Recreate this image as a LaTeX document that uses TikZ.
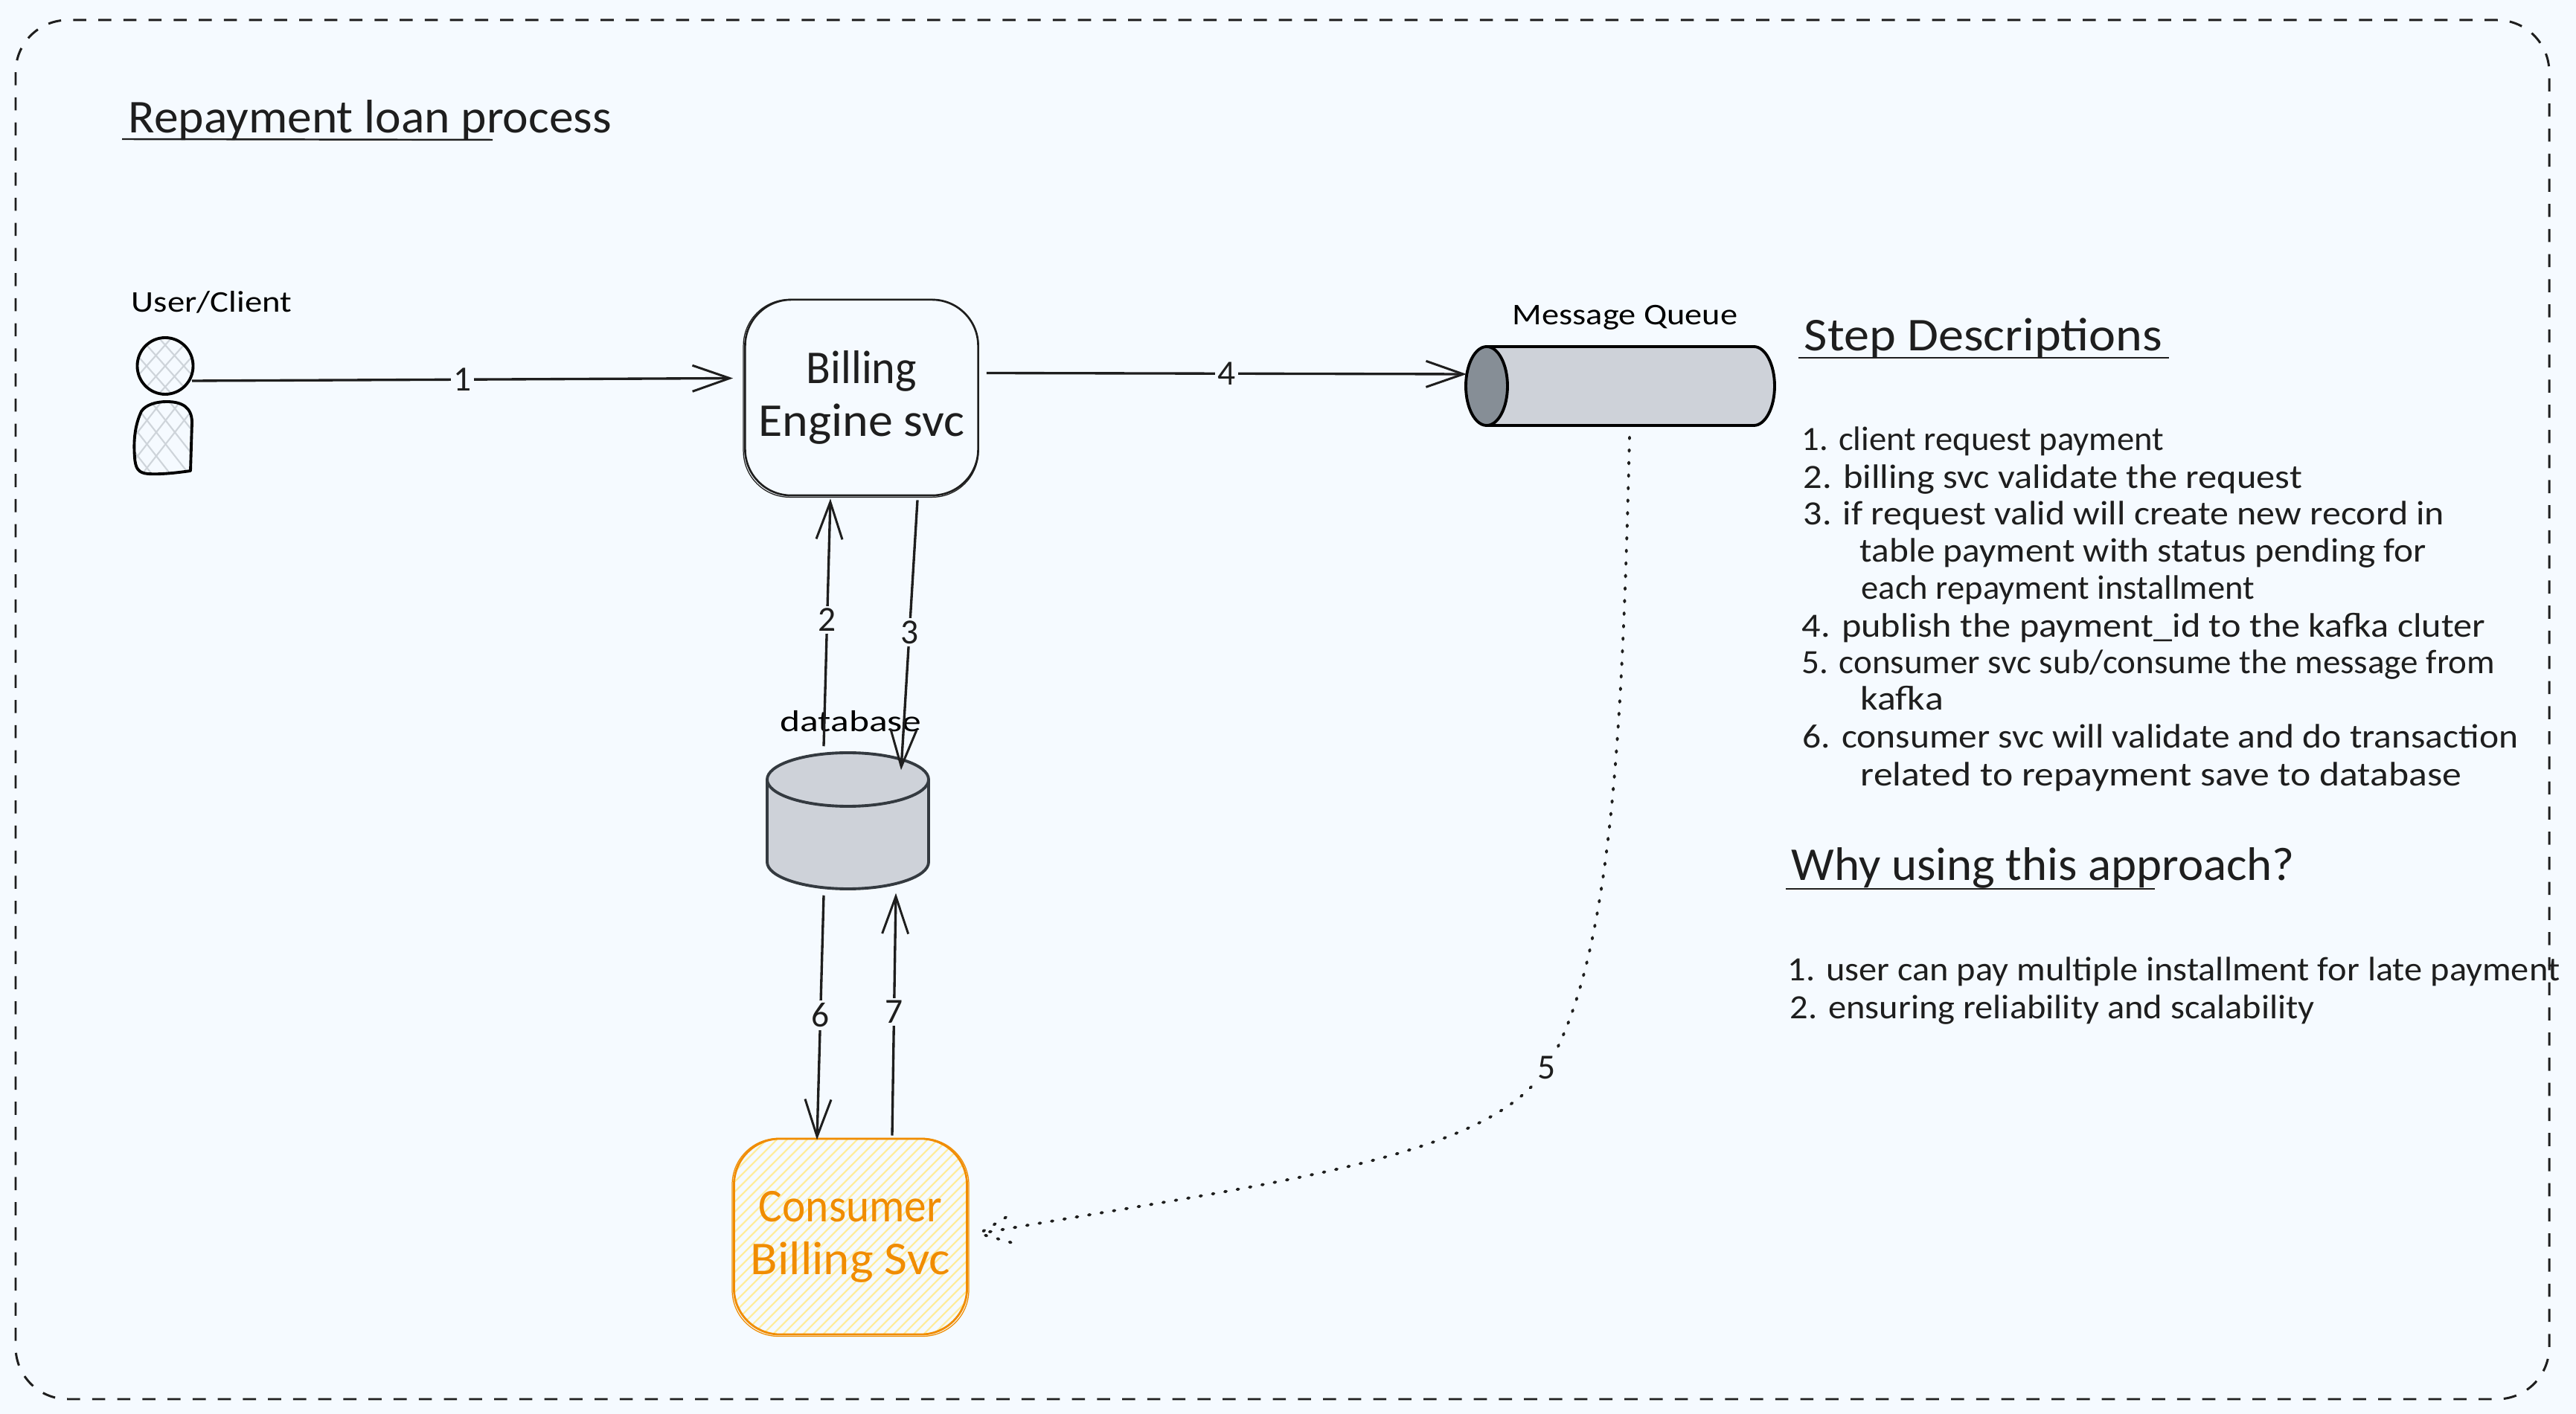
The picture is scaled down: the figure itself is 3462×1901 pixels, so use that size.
\documentclass[tikz,border=0pt]{standalone}
\usepackage{graphicx}
\usepackage{fontspec}
\setmainfont{Carlito}
\usetikzlibrary{arrows.meta,shapes.geometric,calc}
\definecolor{bgc}{HTML}{F5FAFF}
\definecolor{ink}{HTML}{1E1E1E}
\definecolor{grayf}{HTML}{CED2D9}
\definecolor{grayd}{HTML}{868E96}
\definecolor{grays}{HTML}{343A40}
\definecolor{hatch}{HTML}{CED4DA}
\definecolor{orng}{HTML}{F08C00}
\definecolor{yel}{HTML}{FFEC99}
\newcommand\fit[2]{\resizebox{#1}{\height}{#2}}
\newcommand\fsz[1]{\fontsize{#1}{#1}\selectfont}
\tikzset{
  x=0.01cm,y=-0.01cm,
  conn/.style={draw=ink,line width=0.95pt,-{Straight Barb[length=0.5cm,width=0.35cm,line width=0.85pt]}},
  dotline/.style={draw=ink,line width=1.1pt,line cap=round,dash pattern=on 0.6pt off 4.2pt},
  numlbl/.style={fill=bgc,text=ink,inner sep=1pt,font=\fsz{13.5}},
  bodytxt/.style={anchor=base west,inner sep=0,text=ink,font=\fsz{13},yshift=-0.02cm},
  headtxt/.style={anchor=base west,inner sep=0,text=ink,font=\fsz{18},yshift=-0.04cm},
  caplbl/.style={anchor=base,inner sep=0,text=black,font=\fsz{11.5},yshift=-0.02cm},
  svcbox/.style={rectangle,rounded corners=0.62cm,minimum width=3.13cm,minimum height=2.63cm,inner sep=0,align=center,font=\fsz{18}},
  dbshape/.style={draw=grays,fill=grayf,line width=1.1pt,line join=round},
  ruleline/.style={draw=ink,line width=0.7pt},
}
\begin{document}
\begin{tikzpicture}
\useasboundingbox (0,0) rectangle (3462,1901);
\fill[bgc] (0,0) rectangle (3462,1901);
% frame
\draw[draw=ink,line width=0.85pt,dash pattern=on 5pt off 4.6pt,rounded corners=0.7cm] (21,27) rectangle (3426,1881);

% title
\node[headtxt] (title) at (172,175) {\fit{6.49cm}{Repayment loan process}};
\coordinate (tu1) at (164,187); \coordinate (tu2) at (662,188);
\draw[ruleline] (tu1) -- (tu2);

% user
\node[ellipse,draw=black,line width=1.1pt,minimum width=0.75cm,minimum height=0.76cm,inner sep=0,
  path picture={\foreach \k in {-4,...,4}{
     \draw[hatch,line width=0.6pt] ([shift={(\k*25-40,-45)}]path picture bounding box.center) -- ++(80,90);
     \draw[hatch,line width=0.6pt] ([shift={(\k*25+40,-45)}]path picture bounding box.center) -- ++(-80,90);}}]
  (uhead) at (222,492) {};
\begin{scope}
\clip (224,540) .. controls (245,540) and (258,548) .. (258,568) -- (256,633) .. controls (235,636) and (215,638) .. (199,637) .. controls (186,636) and (182,630) .. (181,615) .. controls (179,590) and (182,570) .. (190,553) .. controls (196,544) and (210,540) .. (224,540) -- cycle;
\foreach \k in {-5,...,7}{
  \draw[hatch,line width=0.6pt] (\k*25+100,530) -- ++(-90,115);
  \draw[hatch,line width=0.6pt] (\k*25+170,530) -- ++(90,115);}
\end{scope}
\draw[draw=black,line width=1.1pt,line join=round] (224,540) .. controls (245,540) and (258,548) .. (258,568) -- (256,633) .. controls (235,636) and (215,638) .. (199,637) .. controls (186,636) and (182,630) .. (181,615) .. controls (179,590) and (182,570) .. (190,553) .. controls (196,544) and (210,540) .. (224,540) -- cycle;
\node[caplbl] (ulabel) at (284.5,418) {\fit{2.15cm}{User/Client}};

% billing
\node[svcbox,draw=ink,line width=0.75pt,text=ink] (billing) at (1158,534.5)
  {\raisebox{-0.03cm}{\fit{1.48cm}{Billing}}\\[2.2pt]\raisebox{-0.03cm}{\fit{2.77cm}{Engine svc}}};
\draw[ink,line width=0.35pt,rounded corners=0.62cm] ([shift={(-1,1)}]billing.north west) rectangle ([shift={(-1,1)}]billing.south east);

% queue
\node[inner sep=0,minimum width=4.14cm,minimum height=1.06cm] (queue) at (2178,519) {};
\path[draw=black,fill=grayf,line width=1.1pt,line join=round]
  (1998,466) -- (2357,466) arc[start angle=-90,end angle=90,x radius=28,y radius=53] -- (1998,572) -- cycle;
\draw[draw=black,fill=grayd,line width=1.1pt] (1998,519) ellipse [x radius=28,y radius=53];
\node[caplbl] (qlabel) at (2184,435) {\fit{3.02cm}{Message Queue}};

% database
\node[inner sep=0,minimum width=2.17cm,minimum height=1.83cm] (db) at (1140,1103.5) {};
\path[dbshape] (1031,1048) -- (1031,1159) arc[start angle=180,end angle=0,x radius=108.5,y radius=36] -- (1248,1048);
\draw[dbshape] (1139.5,1048) ellipse [x radius=108.5,y radius=36];
\node[caplbl] (dblabel) at (1143.5,982) {\fit{1.9cm}{database}};

% consumer
\node[svcbox,draw=orng,line width=0.8pt,text=orng,
  path picture={\foreach \k in {-24,...,24}{
     \draw[yel,line width=0.6pt] ([shift={(\k*13.5-170,170)}]path picture bounding box.center) -- ++(340,-340);}}]
  (consumer) at (1143,1662.5)
  {\raisebox{-0.03cm}{\fit{2.46cm}{Consumer}}\\[2.2pt]\raisebox{-0.03cm}{\fit{2.68cm}{Billing Svc}}};
\draw[orng,line width=0.35pt,rounded corners=0.62cm] ([shift={(-1,1)}]consumer.north west) rectangle ([shift={(1,1)}]consumer.south east);

% connectors
\draw[conn] ([shift={(36,20)}]uhead.center) -- node[numlbl,pos=0.5] (n1) {1} ([shift={(-15,-26)}]billing.west);
\draw[conn] ([shift={(-33,-8)}]db.north) -- node[numlbl,pos=0.51] (n2) {2} ([shift={(-42,3)}]billing.south);
\draw[conn] ([shift={(75,5)}]billing.south) -- node[numlbl,pos=0.49] (n3) {3} ([shift={(71,24)}]db.north);
\draw[conn] ([shift={(10,-33)}]billing.east) -- node[numlbl,pos=0.5] (n4) {4} ([shift={(-207,-16)}]queue.center);
\draw[conn] ([shift={(-33,8)}]db.south) -- node[numlbl,pos=0.49] (n6) {6} ([shift={(-45,3)}]consumer.north);
\draw[conn] ([shift={(56,-3)}]consumer.north) -- node[numlbl,pos=0.51] (n7) {7} ([shift={(64,5)}]db.south);
% dotted
\coordinate (d5) at (2079,1435);
\coordinate (dtip) at ([shift={(15,-4)}]consumer.east);
\draw[dotline] ([shift={(12,15)}]queue.south) .. controls +(-10,413) and +(86,-145) .. (d5)
  .. controls +(-79,125) and +(386,-68) .. (dtip);
\draw[dotline] ([shift={(36,-22)}]dtip) -- (dtip) -- ([shift={(43,12)}]dtip);
\node[numlbl] (n5) at (d5) {5};

% step descriptions
\node[headtxt] (s0) at (2424,468) {\fit{4.81cm}{Step Descriptions}};
\coordinate (su1) at (2417,481); \coordinate (su2) at (2915,481);
\draw[ruleline] (su1) -- (su2);
\node[bodytxt] (s1) at (2421,604) {\fit{4.86cm}{1. client request payment}};
\node[bodytxt] (s2) at (2423,655) {\fit{6.70cm}{2. billing svc validate the request}};
\node[bodytxt] (s3) at (2423,704) {\fit{8.61cm}{3. if request valid will create new record in}};
\node[bodytxt] (s4) at (2499,754) {\fit{7.61cm}{table payment with status pending for}};
\node[bodytxt] (s5) at (2501,804) {\fit{5.28cm}{each repayment installment}};
\node[bodytxt] (s6) at (2421,855) {\fit{9.18cm}{4. publish the payment\_id to the kafka cluter}};
\node[bodytxt] (s7) at (2421,904) {\fit{9.31cm}{5. consumer svc sub/consume the message from}};
\node[bodytxt] (s8) at (2500,953) {\fit{1.11cm}{kafka}};
\node[bodytxt] (s9) at (2422,1004) {\fit{9.61cm}{6. consumer svc will validate and do transaction}};
\node[bodytxt] (s10) at (2500,1055) {\fit{8.07cm}{related to repayment save to database}};

% why
\node[headtxt] (w0) at (2407,1180) {\fit{6.76cm}{Why using this approach?}};
\coordinate (wu1) at (2400,1195); \coordinate (wu2) at (2896,1195);
\draw[ruleline] (wu1) -- (wu2);
\node[bodytxt] (w1) at (2402,1317) {\fit{10.37cm}{1. user can pay multiple installment for late payment}};
\node[bodytxt] (w2) at (2405,1368) {\fit{7.05cm}{2. ensuring reliability and scalability}};
\end{tikzpicture}
\end{document}
